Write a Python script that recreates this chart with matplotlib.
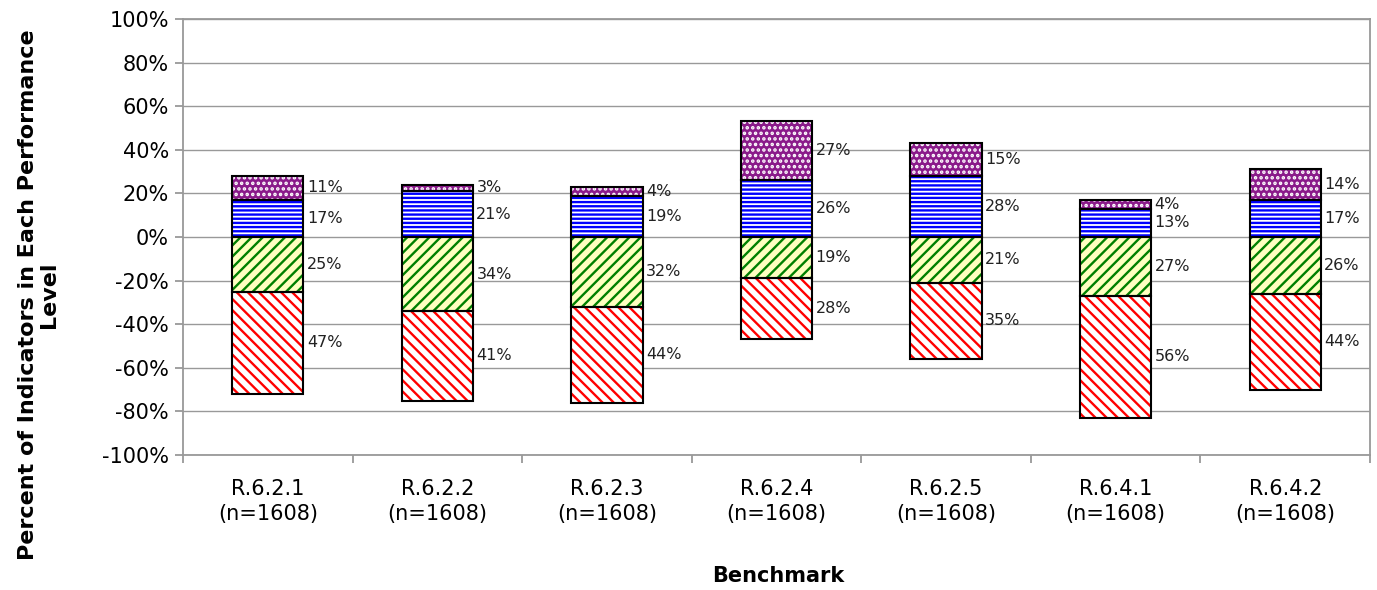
import matplotlib.pyplot as plt
import numpy as np

plt.rcParams['font.family'] = ['DejaVu Sans']
plt.rcParams['hatch.linewidth'] = 1.7

benchmarks = ['R.6.2.1', 'R.6.2.2', 'R.6.2.3', 'R.6.2.4', 'R.6.2.5', 'R.6.4.1', 'R.6.4.2']
n_vals = [1608] * 7
# levels below zero (stacked downwards) and above zero (stacked upwards)
red = [47, 41, 44, 28, 35, 56, 44]
green = [25, 34, 32, 19, 21, 27, 26]
blue = [17, 21, 19, 26, 28, 13, 17]
purple = [11, 3, 4, 27, 15, 4, 14]

x = np.arange(len(benchmarks))
w = 0.42

fig = plt.figure(figsize=(13.77, 5.9), dpi=100)
ax = fig.add_axes([183/1377, 1 - 455/590, (1370 - 183)/1377, (455 - 19)/590])

g = -np.array(green)
r = -np.array(red)
b = np.array(blue)
p = np.array(purple)

segs = [
    (g, 0, '#ffffc0', 'green', '///'),
    (r, g, 'white', 'red', '\\\\\\'),
    (b, 0, 'white', 'blue', '----'),
    (p, b, '#8a1a8a', 'white', '...'),
]
for h, bot, fc, hc, hatch in segs:
    ax.bar(x, h, w, bottom=bot, color=fc, edgecolor=hc, hatch=hatch, linewidth=0, zorder=2)
    ax.bar(x, h, w, bottom=bot, fill=False, edgecolor='black', linewidth=1.5, zorder=3)

lx = x + w/2 + 0.02
fs = 11.5
for i in range(len(x)):
    ax.text(lx[i], g[i]/2, f'{green[i]}%', va='center', ha='left', fontsize=fs, color='#222')
    ax.text(lx[i], g[i] + r[i]/2, f'{red[i]}%', va='center', ha='left', fontsize=fs, color='#222')
    ax.text(lx[i], b[i]/2, f'{blue[i]}%', va='center', ha='left', fontsize=fs, color='#222')
    ax.text(lx[i], b[i] + p[i]/2, f'{purple[i]}%', va='center', ha='left', fontsize=fs, color='#222')

ax.set_ylim(-100, 100)
ax.set_xlim(-0.5, len(x) - 0.5)
ax.set_yticks(np.arange(-100, 101, 20))
ax.set_yticklabels([f'{v}%' for v in range(-100, 101, 20)], fontsize=15)
ax.yaxis.grid(True, color='#999999', linewidth=1)
ax.set_axisbelow(True)
for s in ax.spines.values():
    s.set_color('#999999')
    s.set_linewidth(1.3)
ax.tick_params(axis='y', color='#999999', length=6, width=1.3, pad=4)

ax.set_xticks(np.arange(-0.5, len(x), 1))
ax.set_xticklabels([])
ax.tick_params(axis='x', color='#999999', length=6, width=1.3)
for i, (bm, n) in enumerate(zip(benchmarks, n_vals)):
    ax.text(x[i], -111, f'{bm}\n(n={n})', ha='center', va='top', fontsize=15,
            linespacing=1.3)

fig.text(0.028, 0.5, 'Percent of Indicators in Each Performance\nLevel', rotation=90,
         ha='center', va='center', fontsize=16, fontweight='bold', linespacing=1.05)
fig.text(0.565, 0.024, 'Benchmark', ha='center', va='center', fontsize=15, fontweight='bold')

fig.savefig('out.png', dpi=100)
